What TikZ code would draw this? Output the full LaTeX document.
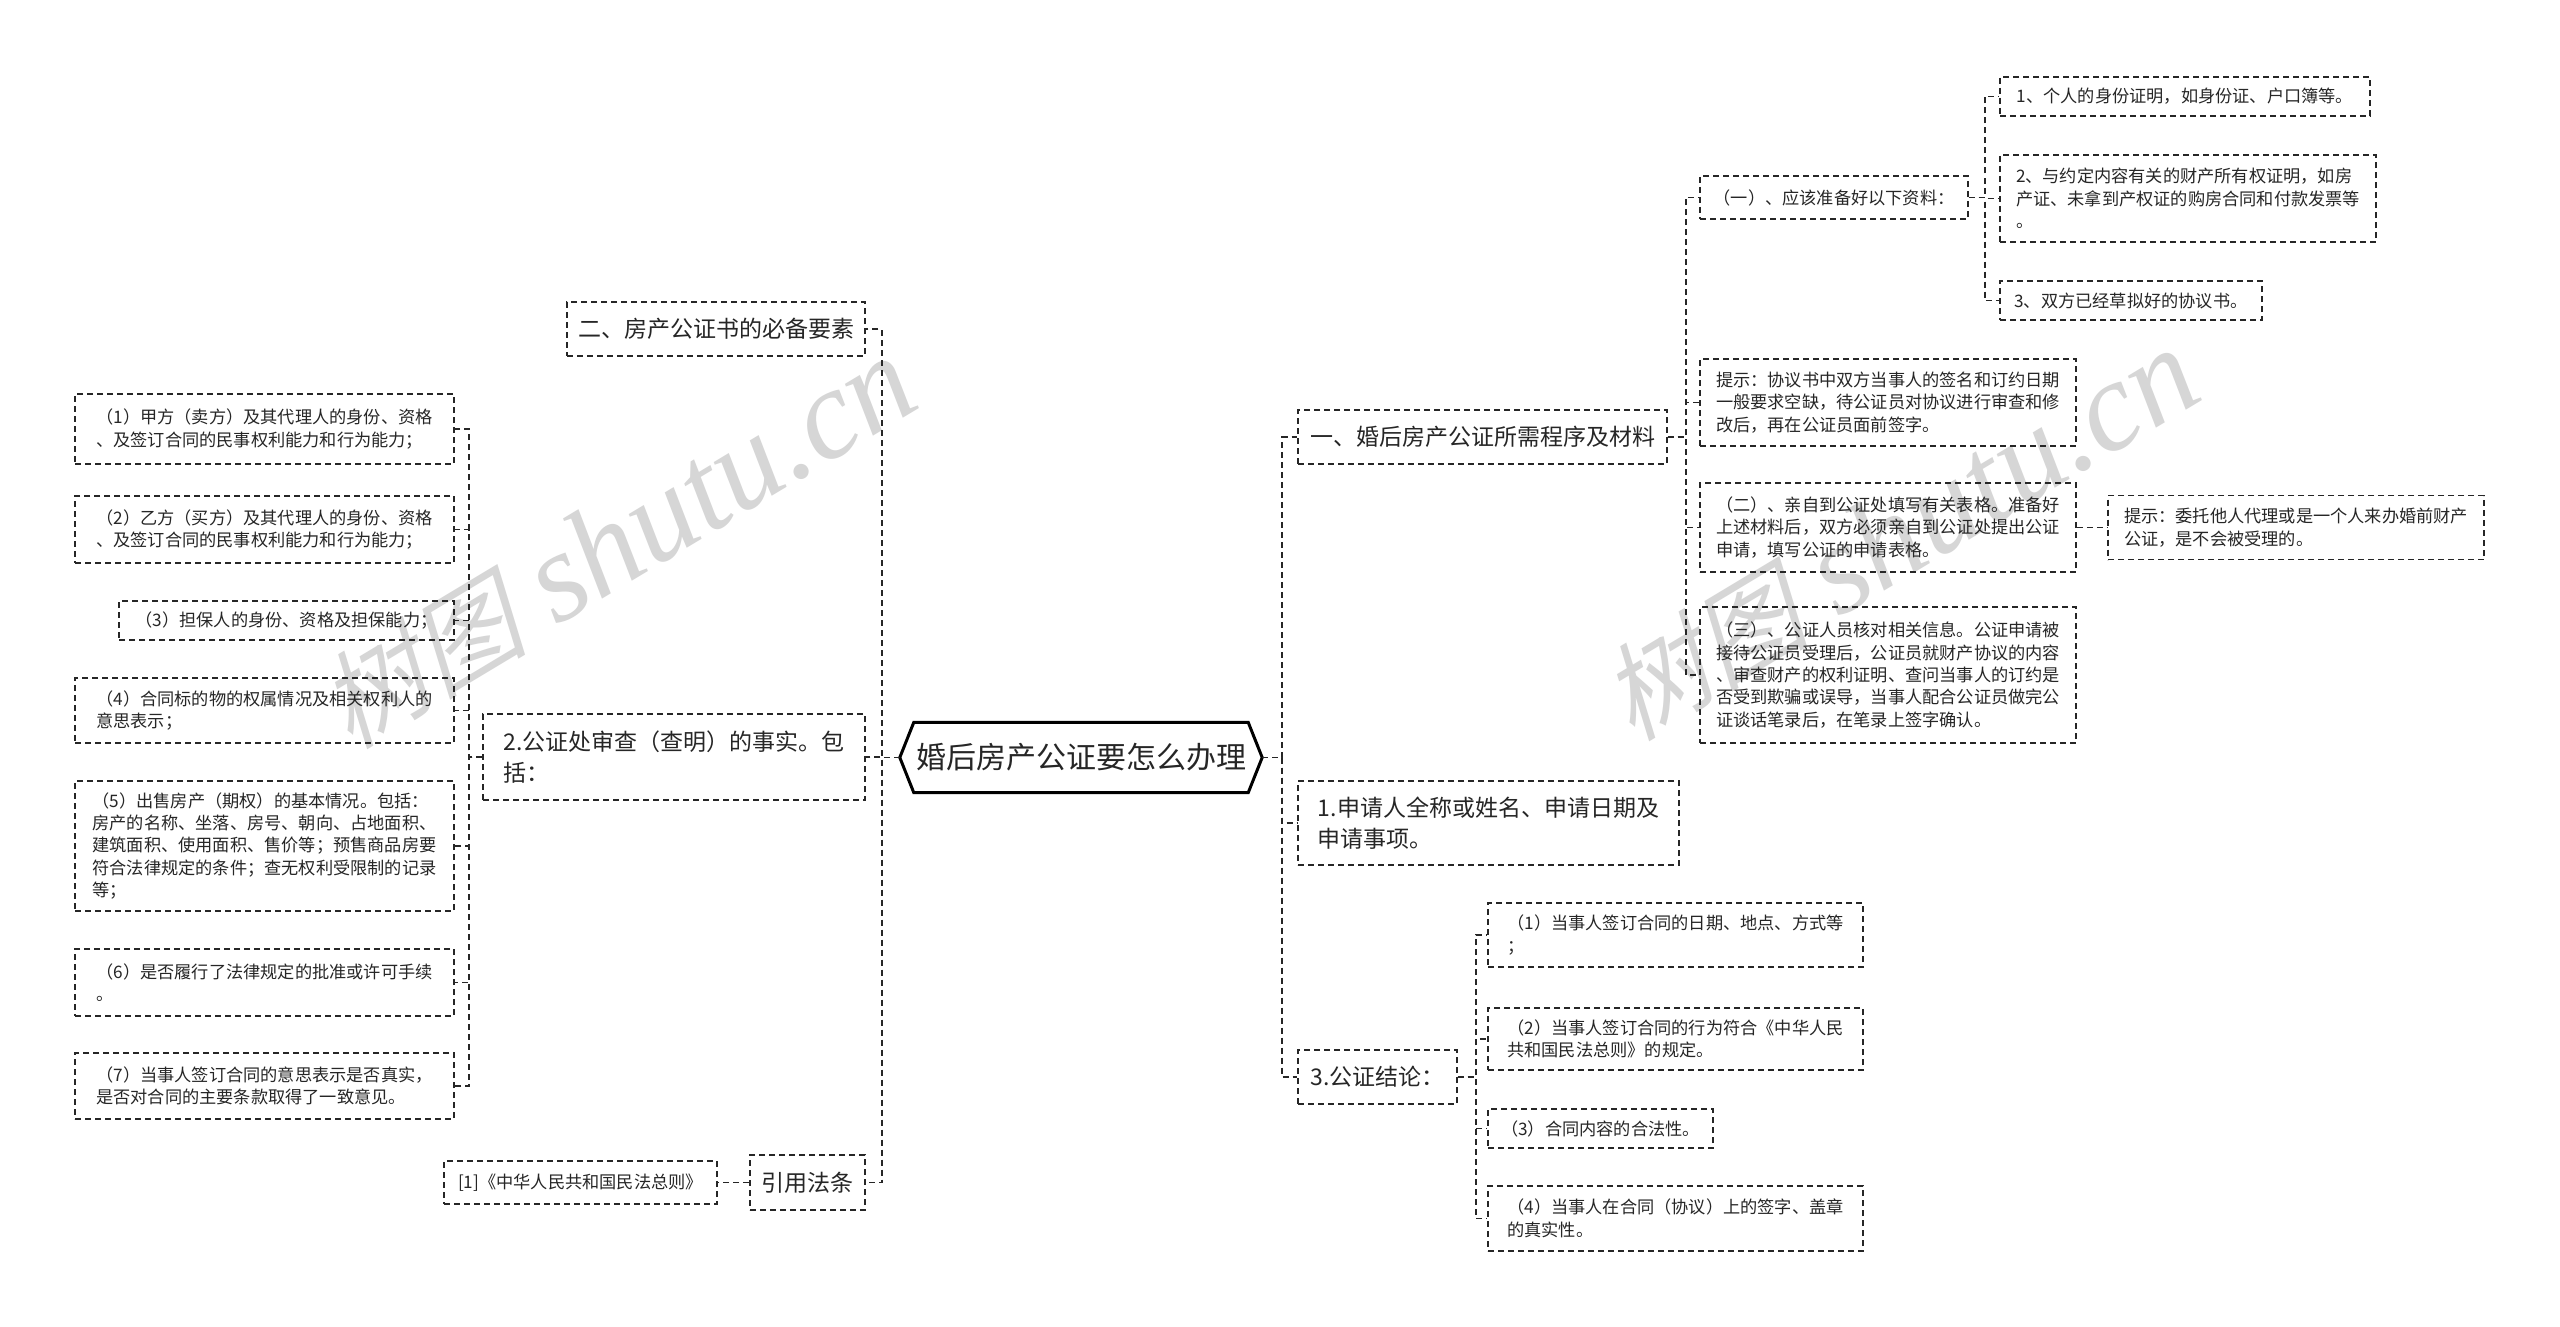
\documentclass[tikz,border=0pt]{standalone}
\usepackage{fontspec}
\newfontfamily\cjk{Noto Sans CJK SC}
\newfontfamily\wmcjk[FakeSlant=0.25]{Noto Sans CJK SC}
\newfontfamily\wmlat{Liberation Serif}
\usetikzlibrary{calc}
\newcommand\fsmall{\cjk\fontsize{17.2}{22.4}\selectfont}
\newcommand\fmid{\cjk\fontsize{23}{31}\selectfont}
\newcommand\fbig{\cjk\fontsize{30}{36}\selectfont}
\newcommand\wmtext{{\wmcjk\fontsize{105}{110}\selectfont 树图}\hspace{30pt}{\wmlat\itshape\fontsize{128}{130}\selectfont shutu.cn}}
\begin{document}
\begin{tikzpicture}[x=1pt,y=-1pt,
  box/.style={draw=black!85, line width=1.7pt, dash pattern=on 6pt off 4pt, align=left, inner xsep=8pt, inner ysep=3pt, text=black!85},
  sm/.style={box, font=\fsmall},
  md/.style={box, font=\fmid},
  wh/.style 2 args={minimum width=#1, minimum height=#2},
  conn/.style={draw=black!85, line width=1.6pt, dash pattern=on 6pt off 4pt},
  wm/.style={rotate=31, text=black!16, anchor=base east, inner sep=0pt},
]
\useasboundingbox (0,0) rectangle (2560,1327);
\fill[white] (0,0) rectangle (2560,1327);

% watermarks
\node[wm] (wmL) at (925,405) {\wmtext};
\node[wm] (wmR) at (2207,397) {\wmtext};

% central node
\node[font=\fbig, text=black!85, minimum width=362, minimum height=70, inner sep=0pt] (hex) at (1081,757.5) {婚后房产公证要怎么办理};
\draw[line width=3pt, fill=white] (hex.west) -- ($(hex.north west)+(14,0)$) -- ($(hex.north east)+(-14,0)$) -- (hex.east) -- ($(hex.south east)+(-14,0)$) -- ($(hex.south west)+(14,0)$) -- cycle;
\node[font=\fbig, text=black!85, minimum width=362, minimum height=70, inner sep=0pt] at (hex.center) {婚后房产公证要怎么办理};

% left first level
\node[md, wh={298}{54}] (n2yao) at (716,329) {二、房产公证书的必备要素};
\node[md, wh={382}{86}] (n2) at (674,757) {2.公证处审查（查明）的事实。包\\括：};
\node[md, wh={115}{55}] (nref) at (807.5,1182.5) {引用法条};
\node[sm, wh={273}{43}] (ref1) at (580.5,1182.5) {[1]《中华人民共和国民法总则》};

% left second level
\node[sm, wh={379}{70}] (g1) at (264.5,429) {（1）甲方（卖方）及其代理人的身份、资格\\、及签订合同的民事权利能力和行为能力；};
\node[sm, wh={379}{67}] (g2) at (264.5,529.5) {（2）乙方（买方）及其代理人的身份、资格\\、及签订合同的民事权利能力和行为能力；};
\node[sm, wh={335}{39}] (g3) at (286.5,620.5) {（3）担保人的身份、资格及担保能力；};
\node[sm, wh={379}{65}] (g4) at (264.5,710.5) {（4）合同标的物的权属情况及相关权利人的\\意思表示；};
\node[sm, wh={379}{130}] (g5) at (264.5,846) {（5）出售房产（期权）的基本情况。包括：\\房产的名称、坐落、房号、朝向、占地面积、\\建筑面积、使用面积、售价等；预售商品房要\\符合法律规定的条件；查无权利受限制的记录\\等；};
\node[sm, wh={379}{67}] (g6) at (264.5,982.5) {（6）是否履行了法律规定的批准或许可手续\\。};
\node[sm, wh={379}{66}] (g7) at (264.5,1086) {（7）当事人签订合同的意思表示是否真实，\\是否对合同的主要条款取得了一致意见。};

% right first level
\node[md, wh={369}{54}] (n1) at (1482.5,437) {一、婚后房产公证所需程序及材料};
\node[md, wh={381}{84}] (nA) at (1488.5,823) {1.申请人全称或姓名、申请日期及\\申请事项。};
\node[md, wh={159}{54}] (nC) at (1377.5,1077) {3.公证结论：};

% children of n1
\node[sm, wh={268}{43}] (a1) at (1834,197.5) {（一）、应该准备好以下资料：};
\node[sm, wh={376}{87}] (a2) at (1888,402.5) {提示：协议书中双方当事人的签名和订约日期\\一般要求空缺，待公证员对协议进行审查和修\\改后，再在公证员面前签字。};
\node[sm, wh={376}{89}] (a3) at (1888,527.5) {（二）、亲自到公证处填写有关表格。准备好\\上述材料后，双方必须亲自到公证处提出公证\\申请，填写公证的申请表格。};
\node[sm, wh={376}{136}] (a4) at (1888,675) {（三）、公证人员核对相关信息。公证申请被\\接待公证员受理后，公证员就财产协议的内容\\、审查财产的权利证明、查问当事人的订约是\\否受到欺骗或误导，当事人配合公证员做完公\\证谈话笔录后，在笔录上签字确认。};

% children of a1
\node[sm, wh={370}{39}] (b1) at (2185,96.5) {1、个人的身份证明，如身份证、户口簿等。};
\node[sm, wh={376}{87}] (b2) at (2188,198.5) {2、与约定内容有关的财产所有权证明，如房\\产证、未拿到产权证的购房合同和付款发票等\\。};
\node[sm, wh={262}{39}] (b3) at (2131,300.5) {3、双方已经草拟好的协议书。};

% child of a3
\node[sm, wh={376}{64}] (c1) at (2296,527.5) {提示：委托他人代理或是一个人来办婚前财产\\公证，是不会被受理的。};

% children of nC
\node[sm, wh={375}{64}] (d1) at (1675.5,935) {（1）当事人签订合同的日期、地点、方式等\\；};
\node[sm, wh={375}{62}] (d2) at (1675.5,1039) {（2）当事人签订合同的行为符合《中华人民\\共和国民法总则》的规定。};
\node[sm, wh={225}{39}] (d3) at (1600.5,1128.5) {（3）合同内容的合法性。};
\node[sm, wh={375}{65}] (d4) at (1675.5,1218.5) {（4）当事人在合同（协议）上的签字、盖章\\的真实性。};

% connectors left
\foreach \t in {n2yao,n2,nref} \draw[conn] (hex.west) -- ++(-18,0) |- (\t.east);
\foreach \t in {g1,g2,g3,g4,g5,g6,g7} \draw[conn] (n2.west) -- ++(-13,0) |- (\t.east);
\draw[conn] (nref.west) -- (ref1.east);

% connectors right
\foreach \t in {n1,nA,nC} \draw[conn] (hex.east) -- ++(20,0) |- (\t.west);
\foreach \t in {a1,a2,a3,a4} \draw[conn] (n1.east) -- ++(18,0) |- (\t.west);
\foreach \t in {b1,b2,b3} \draw[conn] (a1.east) -- ++(16,0) |- (\t.west);
\draw[conn] (a3.east) -- (c1.west);
\foreach \t in {d1,d2,d3,d4} \draw[conn] (nC.east) -- ++(18,0) |- (\t.west);
\end{tikzpicture}
\end{document}
